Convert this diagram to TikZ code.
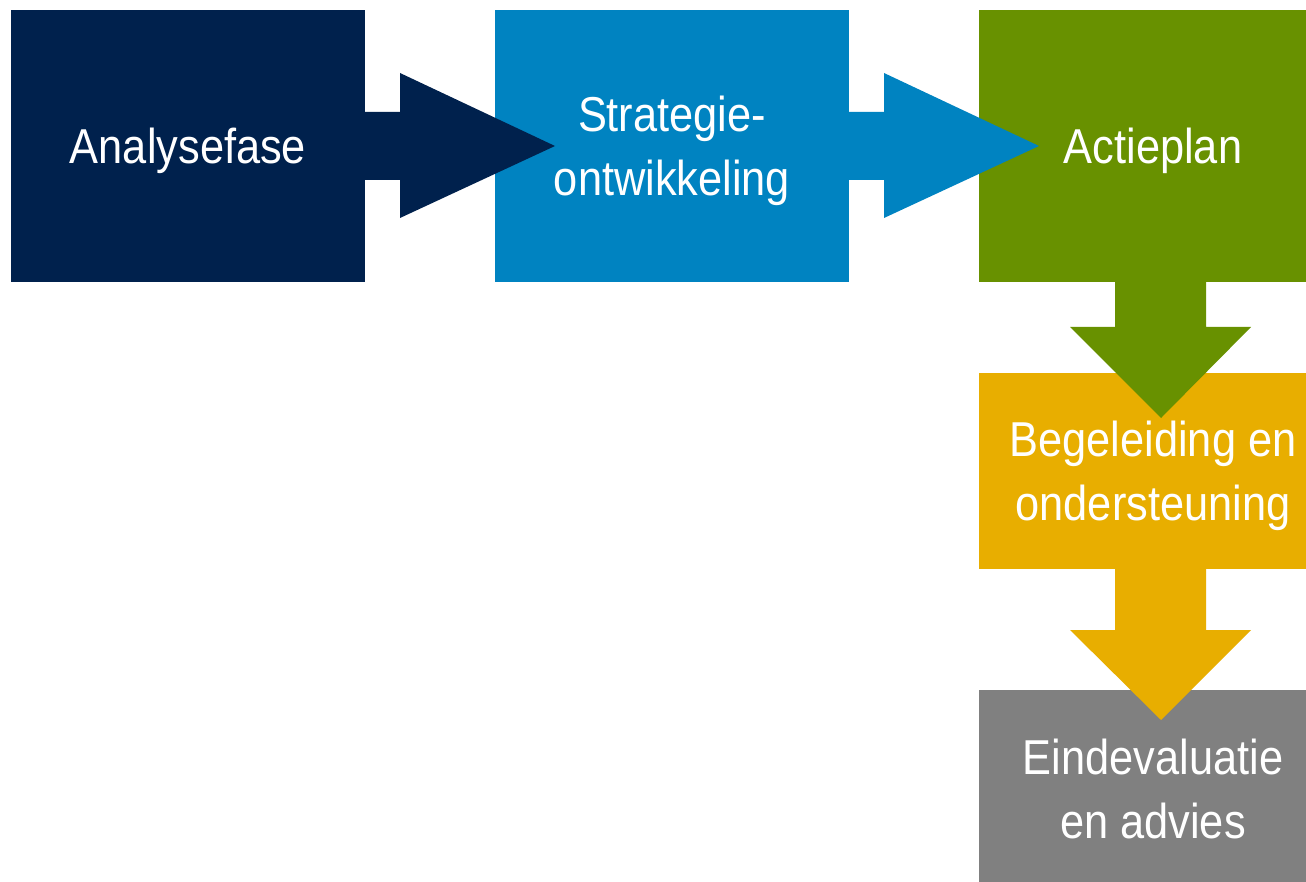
\documentclass[tikz,border=0pt]{standalone}
\usepackage{fontspec}
\setmainfont{Liberation Sans}[FakeStretch=0.885]
\usepackage{xcolor}
\usepackage{tikz}
\usetikzlibrary{calc,positioning}
\definecolor{navyblue}{HTML}{00214D}
\definecolor{oceanblue}{HTML}{0083C1}
\definecolor{leafgreen}{HTML}{689100}
\definecolor{goldyellow}{HTML}{E8AE00}
\definecolor{midgrey}{HTML}{808080}
\newcommand{\phasetop}{\rule{0pt}{47.4pt}}
\newcommand{\phasebot}{\rule[-12pt]{0pt}{12pt}}
\tikzset{
  phase/.style    = {rectangle, draw=none, inner sep=0pt, outer sep=0pt,
                     minimum width=354pt, minimum height=272pt,
                     text=white, align=center,
                     font=\fontsize{49}{64}\selectfont},
  widephase/.style = {phase, minimum width=348pt},
}

\begin{document}
\begin{tikzpicture}[x=1pt,y=-1pt]
\clip (0,0) rectangle (1306,882);
\fill[white] (0,0) rectangle (1306,882);
\node[phase, fill=navyblue]  (ana)   at (188,146)
     {\phasetop Analysefase\phasebot};
\node[phase, fill=oceanblue] (strat) at (672,146)
     {\phasetop Strategie-\\ontwikkeling\phasebot};
\node[widephase, fill=leafgreen]  (act) at (1153,146)
     {\phasetop Actieplan\phasebot};
\node[widephase, fill=goldyellow, minimum height=196pt] (beg) at (1153,471)
     {\phasetop Begeleiding en\\ondersteuning\phasebot};
\node[widephase, fill=midgrey, minimum height=197pt]    (eind) at (1153,788.5)
     {\phasetop Eindevaluatie\\en advies\phasebot};
% block arrows between the phases
\fill[navyblue] (ana.east) ++(0,-34) -- ++(35,0) -- ++(0,-39) -- ++(155,73)
  -- ++(-155,72) -- ++(0,-38) -- ++(-35,0) -- cycle;
\fill[oceanblue] (strat.east) ++(0,-34) -- ++(35,0) -- ++(0,-39) -- ++(155,73)
  -- ++(-155,72) -- ++(0,-38) -- ++(-35,0) -- cycle;
\fill[leafgreen] (act.south) ++(-38,0) -- ++(0,45) -- ++(-45,0) -- ++(91,91)
  -- ++(90,-91) -- ++(-45,0) -- ++(0,-45) -- cycle;
\fill[goldyellow] (beg.south) ++(-38,0) -- ++(0,61) -- ++(-45,0) -- ++(91,90)
  -- ++(90,-90) -- ++(-45,0) -- ++(0,-61) -- cycle;
\end{tikzpicture}
\end{document}
